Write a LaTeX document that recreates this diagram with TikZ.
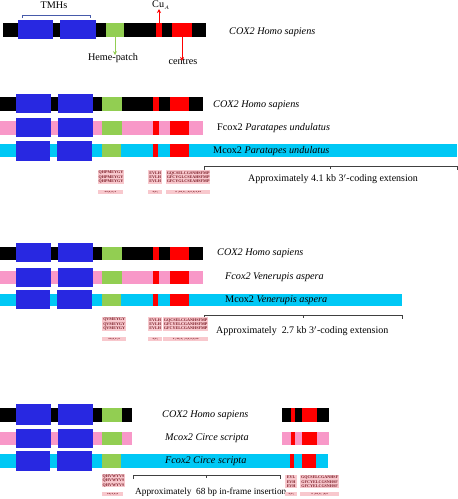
\documentclass[tikz,border=0pt]{standalone}
\usepackage{fontspec}
\setmainfont{Liberation Serif}
\usetikzlibrary{arrows.meta,calc}
\definecolor{tmhblue}{RGB}{40,40,225}
\definecolor{hemegreen}{RGB}{146,206,82}
\definecolor{cured}{RGB}{255,0,0}
\definecolor{fpink}{RGB}{248,152,200}
\definecolor{mcyan}{RGB}{0,200,245}
\definecolor{alnpink}{RGB}{248,200,205}
\definecolor{alntext}{RGB}{120,25,35}
\definecolor{brk}{RGB}{70,90,170}
\tikzset{
  blk/.style={fill=black,draw=none},
  pnk/.style={fill=fpink,draw=none},
  cyn/.style={fill=mcyan,draw=none},
  tmh/.style={fill=tmhblue,draw=none},
  heme/.style={fill=hemegreen,draw=none},
  cua/.style={fill=cured,draw=none},
  lbl/.style={font=\fontsize{10.2}{12}\selectfont,inner sep=0pt},
  note/.style={font=\fontsize{10}{12}\selectfont,inner sep=0pt},
  aln/.style={fill=alnpink,inner sep=0.5pt,anchor=north west,align=center,
    font=\fontsize{4.1}{4.3}\selectfont\bfseries\color{alntext}},
  alnrow/.style={fill=alnpink,inner sep=0.3pt,anchor=north west,align=center,
    font=\fontsize{3.2}{3.4}\selectfont\bfseries\color{alntext}},
  brace/.style={draw=black!75,line width=0.6pt},
  featarrow/.style={-{Stealth[length=4pt,width=4pt]},line width=0.7pt}
}
\begin{document}
\begin{tikzpicture}[x=1pt,y=-1pt]
\useasboundingbox (0,0) rectangle (458,499);
% ---------- section 1 ----------
\fill[blk] (3,23) rectangle (206,37);
\fill[tmh] (18,20) rectangle (53,39);
\fill[tmh] (60,20) rectangle (96,39);
\fill[heme] (106,23) rectangle (124,37);
\fill[cua] (156,23) rectangle (162,37);
\fill[cua] (172,23) rectangle (192,37);
\draw[brk,line width=0.6pt] (22,18) -- (22,15) -- (90,15) -- (90,18);
\node[lbl] (tmhs) at (54,5) {TMHs};
\coordinate (cuastart) at (159,23);
\node[lbl] (cua) at (161,5) {Cu$_{\scriptscriptstyle A}$};
\draw[featarrow,cured] (cuastart) -- (159,9);
\coordinate (hemestart) at (115,37);
\node[lbl] (heme) at (113,58) {Heme-patch};
\draw[featarrow,hemegreen] (hemestart) -- ([yshift=-2]heme.north -| hemestart);
\coordinate (centstart) at (182,37);
\node[lbl] (cent) at (183,62) {centres};
\draw[featarrow,cured] (centstart) -- ([yshift=-2]cent.north -| centstart);
\node[lbl,anchor=west] (l1) at (229,32) {\textit{COX2 Homo sapiens}};
% ---------- section 2 ----------
\fill[blk] (0,97) rectangle (203,111);
\fill[tmh] (16,94) rectangle (51,113);
\fill[tmh] (58,94) rectangle (93,113);
\fill[heme] (102,97) rectangle (122,111);
\fill[cua] (153,97) rectangle (159,111);
\fill[cua] (170,97) rectangle (189,111);
\fill[pnk] (0,121) rectangle (203,135);
\fill[tmh] (16,118) rectangle (51,137);
\fill[tmh] (58,118) rectangle (93,137);
\fill[heme] (102,121) rectangle (122,135);
\fill[cua] (153,121) rectangle (159,135);
\fill[cua] (170,121) rectangle (189,135);
\fill[cyn] (0,144) rectangle (457,157);
\fill[tmh] (16,141) rectangle (50,161);
\fill[tmh] (57,141) rectangle (92,161);
\fill[heme] (102,144) rectangle (121,157);
\fill[cua] (153,144) rectangle (158,157);
\fill[cua] (170,144) rectangle (189,157);
\node[lbl,anchor=west] (l2a) at (213,105) {\textit{COX2 Homo sapiens}};
\node[lbl,anchor=west] (l2b) at (217,128) {Fcox2 \textit{Paratapes undulatus}};
\node[lbl,anchor=west] (l2c) at (213,151) {Mcox2 \textit{Paratapes undulatus}};
\coordinate (b2l) at (204,166);
\coordinate (b2r) at (457,166);
\draw[brace] ([yshift=-4]b2l) -- (b2l) -- (b2r) -- ([yshift=-4]b2r);
\draw[brace] ($(b2l)!0.5!(b2r)$) -- ++(0,3);
\node[note] (t2) at (333,179) {Approximately 4.1 kb 3$'$-coding extension};
\node[aln,minimum width=25pt,minimum height=14pt] (a2a) at (98,170) {QHPMEYGY\\QHPMEYGY\\QHPMEYGY};
\node[aln,minimum width=14pt,minimum height=14pt] (a2b) at (148,170) {EVLH\\EVLH\\EVLH};
\node[aln,minimum width=44pt,minimum height=14pt] (a2c) at (166,170) {GQCSELCGSNHSFMP\\GFCYGLCSEAHSFMP\\GFCYGLCSEAHSFMP};
\node[alnrow,minimum width=25pt,minimum height=4pt] (a2d) at (98,190) {**:*.*\,:*\,};
\node[alnrow,minimum width=14pt,minimum height=4pt] (a2e) at (148,190) {*:*:};
\node[alnrow,minimum width=44pt,minimum height=4pt] (a2f) at (166,190) {*\,\,:**.*:\,\,:*:*.*:*.**};
% ---------- section 3 ----------
\fill[blk] (0,247) rectangle (203,260);
\fill[tmh] (16,243) rectangle (51,262);
\fill[tmh] (58,243) rectangle (93,262);
\fill[heme] (102,247) rectangle (122,260);
\fill[cua] (153,247) rectangle (159,260);
\fill[cua] (170,247) rectangle (189,260);
\fill[pnk] (0,271) rectangle (203,284);
\fill[tmh] (16,268) rectangle (51,287);
\fill[tmh] (58,268) rectangle (93,287);
\fill[heme] (102,271) rectangle (122,284);
\fill[cua] (153,271) rectangle (159,284);
\fill[cua] (170,271) rectangle (189,284);
\fill[cyn] (0,294) rectangle (402,306);
\fill[tmh] (16,290) rectangle (50,309);
\fill[tmh] (57,290) rectangle (92,309);
\fill[heme] (102,294) rectangle (121,306);
\fill[cua] (153,294) rectangle (158,306);
\fill[cua] (170,294) rectangle (189,306);
\node[lbl,anchor=west] (l3a) at (217,253) {\textit{COX2 Homo sapiens}};
\node[lbl,anchor=west] (l3b) at (225,277) {\textit{Fcox2 Venerupis aspera}};
\node[lbl,anchor=west] (l3c) at (225,300) {Mcox2 \textit{Venerupis aspera}};
\coordinate (b3l) at (204,315);
\coordinate (b3r) at (402,315);
\draw[brace] ([yshift=-4]b3l) -- (b3l) -- (b3r) -- ([yshift=-4]b3r);
\draw[brace] ($(b3l)!0.5!(b3r)$) -- ++(0,3);
\node[note,anchor=west] (t3) at (216,331) {Approximately~ 2.7 kb 3$'$-coding extension};
\node[aln,minimum width=24pt,minimum height=14pt] (a3a) at (102,317) {QVMEYGY\\QVMEYGY\\QVMEYGY};
\node[aln,minimum width=14pt,minimum height=14pt] (a3b) at (148,317) {EVLH\\EVLH\\EVLH};
\node[aln,minimum width=45pt,minimum height=14pt] (a3c) at (163,317) {GQCSELCGANHSFMP\\GFCYELCGANHSFMP\\GFCYELCGANHSFMP};
\node[alnrow,minimum width=24pt,minimum height=4pt] (a3d) at (102,337) {**:*.*\,:*};
\node[alnrow,minimum width=14pt,minimum height=4pt] (a3e) at (148,337) {*:*:};
\node[alnrow,minimum width=45pt,minimum height=4pt] (a3f) at (163,337) {*\,\,:**.*:\,\,:*:*.*:*.**};
% ---------- section 4 ----------
\fill[blk] (0,408) rectangle (132,422);
\fill[tmh] (16,404) rectangle (51,425);
\fill[tmh] (58,404) rectangle (93,425);
\fill[heme] (102,408) rectangle (122,422);
\fill[pnk] (0,432) rectangle (132,445);
\fill[tmh] (16,429) rectangle (51,448);
\fill[tmh] (58,429) rectangle (93,448);
\fill[heme] (102,432) rectangle (122,445);
\fill[cyn] (0,454) rectangle (328,468);
\fill[tmh] (16,451) rectangle (50,471);
\fill[tmh] (57,451) rectangle (92,471);
\fill[heme] (102,454) rectangle (121,468);
\fill[blk] (282,408) rectangle (329,422);
\fill[cua] (291,408) rectangle (295,422);
\fill[cua] (302,408) rectangle (317,422);
\fill[pnk] (282,432) rectangle (329,445);
\fill[cua] (291,432) rectangle (295,445);
\fill[cua] (302,432) rectangle (317,445);
\fill[cua] (290,454) rectangle (294,468);
\fill[cua] (302,454) rectangle (316,468);
\node[lbl,anchor=west] (l4a) at (162,415) {\textit{COX2 Homo sapiens}};
\node[lbl,anchor=west] (l4b) at (165,438) {\textit{Mcox2 Circe scripta}};
\node[lbl,anchor=west] (l4c) at (165,461) {\textit{Fcox2 Circe scripta}};
\coordinate (b4l) at (133,475);
\coordinate (b4r) at (280,475);
\draw[brace] ([yshift=-4]b4l) -- (b4l) -- (b4r) -- ([yshift=-4]b4r);
\draw[brace] ($(b4l)!0.5!(b4r)$) -- ++(0,3);
\node[note,anchor=west,font=\fontsize{9.3}{11}\selectfont] (t4) at (135,492) {Approximately~ 68 bp in-frame insertion};
\node[aln,minimum width=21pt,minimum height=13pt] (a4a) at (102,474) {QHVWYVS\\QHVWYVS\\QHVWYVS};
\node[alnrow,minimum width=21pt,minimum height=4pt] (a4d) at (102,492) {**:*.*:*};
\node[aln,minimum width=12pt,minimum height=13pt] (a4b) at (285,475) {EVL\\EVH\\EVH};
\node[aln,minimum width=39pt,minimum height=13pt] (a4c) at (300,475) {GQCSELCGANHSF\\GFCYELCGSNHSF\\GFCYELCGSNHSF};
\node[alnrow,minimum width=12pt,minimum height=4pt] (a4e) at (285,492) {*:*:};
\node[alnrow,minimum width=39pt,minimum height=4pt] (a4f) at (300,492) {*\,\,:**.*:\,\,:*:*};
\end{tikzpicture}
\end{document}
